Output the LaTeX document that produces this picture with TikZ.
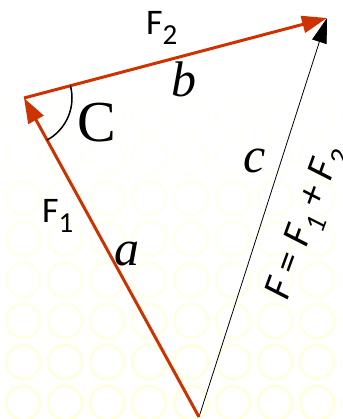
\documentclass[tikz,border=0pt]{standalone}
\usepackage{fontspec}
\setmainfont{Liberation Serif}
\newfontfamily\calfont{Carlito}
\usepackage{xcolor}
\definecolor{cForce}{HTML}{CC3300}
\definecolor{cRing}{HTML}{FFFFCC}
\usetikzlibrary{arrows.meta,angles}
\tikzset{
  arrow-force/.style={-{Triangle[length=25pt,width=17pt]},line width=3pt,draw=cForce},
  arrow-sum/.style={-{Triangle[length=25pt,width=15pt]},line width=0.8pt,draw=black},
  label-force/.style={font=\calfont\fontsize{36}{36}\selectfont,inner sep=0pt},
  label-side/.style={font=\itshape\fontsize{50}{50}\selectfont,inner sep=0pt},
  label-angle/.style={font=\fontsize{58}{58}\selectfont,inner sep=0pt},
  ring/.style={draw=cRing,line width=2.5pt},
}
\newcommand{\lowsub}[1]{\raisebox{-10pt}{\fontsize{29}{29}\selectfont #1}}

\begin{document}
\begin{tikzpicture}[x=1pt,y=1pt]
  \useasboundingbox (0,0) rectangle (342,419);
  % faint ring pattern, fading upwards
  \begin{scope}
    \clip (0,0) rectangle (342,419);
    \foreach \r in {0,...,8} {
      \pgfmathsetmacro{\op}{0.75-\r/11}
      \foreach \c in {0,...,8}
        \draw[ring,draw opacity=\op] (23+42*\c,16+41*\r) circle (17pt);
    }
  \end{scope}
  \coordinate (O) at (199,2);
  \coordinate (A) at (24,321);
  \coordinate (B) at (327,401);
  \draw[arrow-sum] (O) -- (B);
  \draw[arrow-force] (O) -- (A);
  \draw[arrow-force] (A) -- (B);
  \pic[draw,line width=1.5pt,angle radius=48pt] {angle=O--A--B};
  \node[label-force,anchor=base west] (F2) at (146,384) {F\lowsub{2}};
  \node[label-force,anchor=base west] (F1) at (42,196) {F\lowsub{1}};
  \node[label-force,font=\calfont\itshape\fontsize{40}{40}\selectfont,rotate=70,anchor=base west]
    (F) at (287,117) {F = F\lowsub{1} + F\lowsub{2}};
  \node[label-side,anchor=base] (b) at (184,322) {b};
  \node[label-side,anchor=base] (c) at (255,246) {c};
  \node[label-side,anchor=base] (a) at (127,153) {a};
  \node[label-angle,anchor=base] (C) at (97,277) {C};
\end{tikzpicture}
\end{document}
